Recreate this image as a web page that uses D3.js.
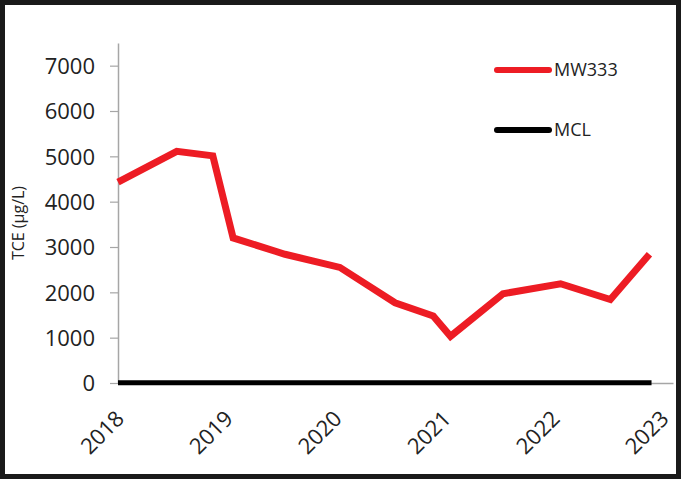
<!DOCTYPE html>
<html>
<head>
<meta charset="utf-8">
<script src="https://cdn.jsdelivr.net/npm/d3@7"></script>
<style>
  body { margin: 0; background: #fff; }
  text { font-family: "Open Sans", sans-serif; fill: #222; }
</style>
</head>
<body>
<div id="vis"></div>
<script>
// MW333 TCE samples (date, µg/L)
const sampleDates = ['2018-01-01', '2018-07-17', '2018-11-15', '2019-01-22', '2019-07-15',
                     '2020-01-15', '2020-07-18', '2020-11-23', '2021-01-20', '2021-07-15',
                     '2022-01-24', '2022-07-10', '2022-11-18']
const mw333Values = [4430, 5110, 5010, 3200, 2840, 2550, 1770, 1480, 1030, 1970, 2190, 1840, 2840]
const mclDates = ['2018-01-01', '2022-11-25']
const mclValues = [5, 5]
const yTicks = [0, 1000, 2000, 3000, 4000, 5000, 6000, 7000]
const xTickYears = [2018, 2019, 2020, 2021, 2022, 2023]
const seriesNames = ['MW333', 'MCL']
const seriesColors = ['#ed1c24', '#000000']

const W = 684, H = 482
const margin = {left: 118, top: 43, right: 11, bottom: 99}

const parse = d3.timeParse('%Y-%m-%d')
const mw333 = sampleDates.map((d, i) => ({date: parse(d), value: mw333Values[i]}))
const mcl = mclDates.map((d, i) => ({date: parse(d), value: mclValues[i]}))

const x = d3.scaleTime()
    .domain([parse('2018-01-01'), parse('2023-02-05')])
    .range([margin.left, W - margin.right])
const y = d3.scaleLinear()
    .domain([0, 7500])
    .range([H - margin.bottom, margin.top])

const svg = d3.select('#vis').append('svg')
    .attr('width', W)
    .attr('height', H)

// outer frame
svg.append('rect')
    .attr('x', 2.5).attr('y', 2.5)
    .attr('width', W - 8).attr('height', H - 8)
    .attr('fill', 'none')
    .attr('stroke', '#1a1a1a')
    .attr('stroke-width', 5)

// y axis
const yAxis = svg.append('g')
    .attr('transform', `translate(${margin.left},0)`)
    .call(d3.axisLeft(y).tickValues(yTicks).tickFormat(d3.format('d'))
        .tickSize(8).tickPadding(15).tickSizeOuter(0))
yAxis.select('.domain').attr('stroke', '#a6a6a6').attr('stroke-width', 1.5)
yAxis.selectAll('.tick line').attr('stroke', '#a6a6a6').attr('stroke-width', 1.2)
yAxis.selectAll('.tick text')
    .style('font-size', '22px')
    .attr('dy', '0.36em')

// x axis
const xAxis = svg.append('g')
    .attr('transform', `translate(0,${y(0)})`)
    .call(d3.axisBottom(x)
        .tickValues(xTickYears.map(yr => new Date(yr, 0, 1)))
        .tickFormat(d3.timeFormat('%Y'))
        .tickSize(0).tickSizeOuter(0))
xAxis.select('.domain').attr('stroke', '#a6a6a6').attr('stroke-width', 1.5)
xAxis.selectAll('.tick text')
    .style('font-size', '22px')
    .attr('text-anchor', 'end')
    .attr('y', 0)
    .attr('dy', 0)
    .attr('transform', 'translate(7,37) rotate(-45)')

// y label
svg.append('text')
    .attr('transform', `translate(24,223) rotate(-90)`)
    .attr('text-anchor', 'middle')
    .style('font-size', '16px')
    .text('TCE (µg/L)')

const line = d3.line()
    .x(d => x(d.date))
    .y(d => y(d.value))

svg.append('path')
    .datum(mcl)
    .attr('d', line)
    .attr('fill', 'none')
    .attr('stroke', seriesColors[1])
    .attr('stroke-width', 5)

svg.append('path')
    .datum(mw333)
    .attr('d', line)
    .attr('fill', 'none')
    .attr('stroke', seriesColors[0])
    .attr('stroke-width', 7)
    .attr('stroke-linejoin', 'miter')

// legend
const legend = svg.append('g')
    .selectAll('g')
    .data(seriesNames)
    .enter()
    .append('g')
        .attr('transform', (d, i) => `translate(494,${70 + i * 60})`)
legend.append('line')
    .attr('x1', 3).attr('x2', 55)
    .attr('stroke', (d, i) => seriesColors[i])
    .attr('stroke-width', 6)
    .attr('stroke-linecap', 'round')
legend.append('text')
    .attr('x', 60)
    .attr('dy', '0.36em')
    .style('font-size', '18px')
    .text(d => d)
</script>
</body>
</html>
